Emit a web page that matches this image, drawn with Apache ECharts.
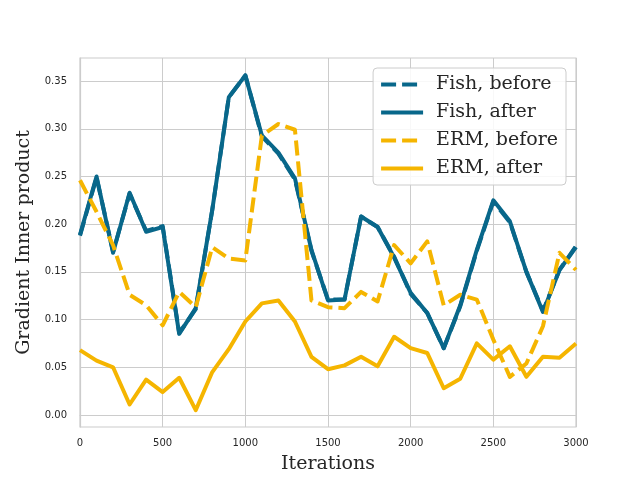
<!DOCTYPE html>
<html>
<head>
<meta charset="utf-8">
<script src="https://cdn.jsdelivr.net/npm/echarts@6/dist/echarts.min.js"></script>
<style>
  html, body { margin: 0; padding: 0; background: #fff; }
  #chart { width: 640px; height: 480px; }
</style>
</head>
<body>
<div id="chart"></div>
<script>
// iterations (x)
const iterations = [0, 100, 200, 300, 400, 500, 600, 700, 800, 900, 1000,
  1100, 1200, 1300, 1400, 1500, 1600, 1700, 1800, 1900, 2000,
  2100, 2200, 2300, 2400, 2500, 2600, 2700, 2800, 2900, 3000]

// gradient inner product
const fishBefore = [0.188, 0.249, 0.171, 0.232, 0.193, 0.198, 0.086, 0.111, 0.215, 0.333, 0.356,
  0.292, 0.274, 0.247, 0.172, 0.121, 0.121, 0.208, 0.197, 0.166, 0.127,
  0.107, 0.070, 0.114, 0.172, 0.224, 0.202, 0.150, 0.109, 0.152, 0.177]
const fishAfter = [0.189, 0.250, 0.170, 0.233, 0.192, 0.197, 0.085, 0.112, 0.215, 0.333, 0.356,
  0.293, 0.275, 0.248, 0.173, 0.120, 0.121, 0.208, 0.197, 0.165, 0.128,
  0.107, 0.070, 0.115, 0.173, 0.225, 0.203, 0.150, 0.108, 0.152, 0.176]
const ermBefore = [0.246, 0.213, 0.178, 0.126, 0.115, 0.094, 0.129, 0.113, 0.176, 0.164, 0.162,
  0.293, 0.305, 0.299, 0.120, 0.113, 0.112, 0.129, 0.119, 0.178, 0.159,
  0.182, 0.115, 0.126, 0.121, 0.079, 0.040, 0.054, 0.093, 0.170, 0.152]
const ermAfter = [0.068, 0.057, 0.050, 0.011, 0.037, 0.024, 0.039, 0.005, 0.045, 0.069, 0.098,
  0.117, 0.120, 0.098, 0.061, 0.048, 0.052, 0.061, 0.051, 0.082, 0.070,
  0.065, 0.028, 0.038, 0.075, 0.058, 0.072, 0.040, 0.061, 0.060, 0.075]

const yTicks = [0, 0.05, 0.1, 0.15, 0.2, 0.25, 0.3, 0.35]

const FISH = "#08678a"
const ERM = "#f5b500"

function pairs(ys) {
  return ys.map((v, i) => [iterations[i], v])
}

function lineSeries(name, ys, color, dashed) {
  return {
    name: name,
    type: "line",
    data: pairs(ys),
    symbol: "none",
    smooth: false,
    lineStyle: {
      color: color,
      width: 4,
      type: dashed ? [15, 6] : "solid",
      cap: "butt",
      join: "round"
    },
    itemStyle: { color: color },
    emphasis: { disabled: true }
  }
}

const chart = echarts.init(document.getElementById("chart"), null, { renderer: "canvas" })

const option = {
  backgroundColor: "#ffffff",
  animation: false,
  grid: {
    left: 80, right: 64, top: 58, bottom: 53,
    show: true,
    borderColor: "#cccccc",
    borderWidth: 1.2,
    backgroundColor: "transparent"
  },
  legend: {
    right: 74, top: 68,
    orient: "vertical",
    itemWidth: 42,
    itemHeight: 20,
    itemGap: 9,
    padding: [7, 8, 7, 6],
    backgroundColor: "rgba(255,255,255,0.85)",
    borderColor: "#cccccc",
    borderWidth: 1,
    borderRadius: 4,
    itemStyle: { opacity: 0 },
    lineStyle: { width: 4, cap: "butt" },
    textStyle: { fontFamily: "DejaVu Serif", fontSize: 19, color: "#262626", padding: [0, 0, 0, 8] },
    data: ["Fish, before", "Fish, after", "ERM, before", "ERM, after"]
  },
  xAxis: {
    type: "value",
    min: 0, max: 3000, interval: 500,
    name: "Iterations",
    nameLocation: "middle",
    nameGap: 28,
    nameTextStyle: { fontFamily: "DejaVu Serif", fontSize: 19, color: "#262626" },
    axisLine: { show: true, lineStyle: { color: "#cccccc", width: 1.2 } },
    axisTick: { show: false },
    axisLabel: {
      fontFamily: "DejaVu Sans", fontSize: 10, color: "#262626", margin: 11,
      formatter: v => String(v)
    },
    splitLine: { show: true, lineStyle: { color: "#cccccc", width: 1 } }
  },
  yAxis: {
    type: "value",
    min: -0.0126, max: 0.3742,
    name: "Gradient Inner product",
    nameLocation: "middle",
    nameGap: 41,
    nameTextStyle: { fontFamily: "DejaVu Serif", fontSize: 19, color: "#262626" },
    axisLine: { show: true, lineStyle: { color: "#cccccc", width: 1.2 } },
    axisTick: { show: false, customValues: yTicks },
    axisLabel: {
      customValues: yTicks,
      fontFamily: "DejaVu Sans", fontSize: 10, color: "#262626", margin: 13,
      formatter: v => v.toFixed(2)
    },
    splitLine: { show: true, lineStyle: { color: "#cccccc", width: 1 } }
  },
  series: [
    lineSeries("Fish, before", fishBefore, FISH, true),
    lineSeries("Fish, after", fishAfter, FISH, false),
    lineSeries("ERM, before", ermBefore, ERM, true),
    lineSeries("ERM, after", ermAfter, ERM, false)
  ]
}

chart.setOption(option)
</script>
</body>
</html>
